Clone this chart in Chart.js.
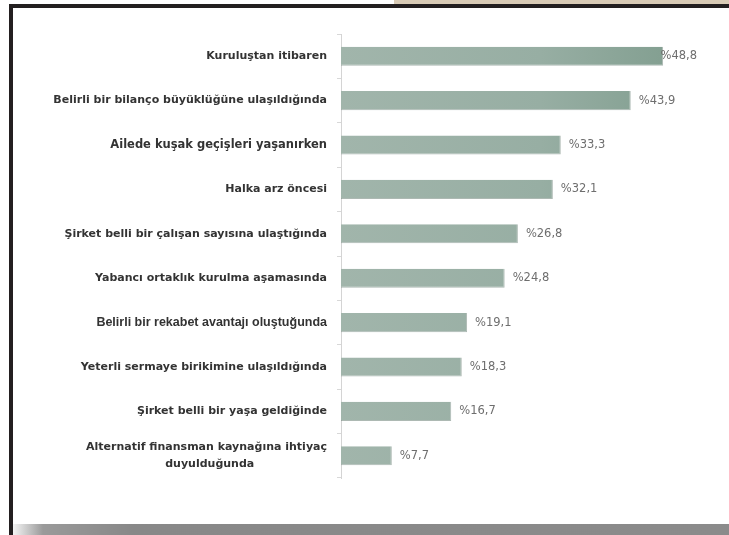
<!DOCTYPE html>
<html>
<head>
<meta charset="utf-8">
<script src="https://cdn.jsdelivr.net/npm/chart.js@4/dist/chart.umd.min.js"></script>
<style>
  html, body { margin: 0; padding: 0; background: #ffffff; }
  body { width: 729px; height: 535px; position: relative; overflow: hidden; }
  #wrap { position: absolute; left: 0; top: 0; width: 729px; height: 535px; }
  .fr { position: absolute; z-index: 2; }
  #tan { left: 394px; top: 0; width: 335px; height: 4px; background: #d9cbb6; }
  #topb { left: 9px; top: 4px; width: 720px; height: 4px; background: #231f20; }
  #leftb { left: 9px; top: 4px; width: 4px; height: 531px; background: #231f20; }
  #shadow { left: 13px; top: 524px; width: 716px; height: 11px;
            background: linear-gradient(to right, #f4f4f4 0px, #9a9a9a 30px, #888888 120px, #8b8b8b 100%); }
</style>
</head>
<body>
<div id="wrap"><canvas id="c" width="729" height="535"></canvas></div>
<div class="fr" id="tan"></div>
<div class="fr" id="topb"></div>
<div class="fr" id="leftb"></div>
<div class="fr" id="shadow"></div>
<script>
const categories = [
  "Kuruluştan itibaren",
  "Belirli bir bilanço büyüklüğüne ulaşıldığında",
  "Ailede kuşak geçişleri yaşanırken",
  "Halka arz öncesi",
  "Şirket belli bir çalışan sayısına ulaştığında",
  "Yabancı ortaklık kurulma aşamasında",
  "Belirli bir rekabet avantajı oluştuğunda",
  "Yeterli sermaye birikimine ulaşıldığında",
  "Şirket belli bir yaşa geldiğinde",
  ["Alternatif finansman kaynağına ihtiyaç", "duyulduğunda" + "\u00A0".repeat(19)]
];
const values = [48.8, 43.9, 33.3, 32.1, 26.8, 24.8, 19.1, 18.3, 16.7, 7.7];

function fmt(v) { return '%' + v.toFixed(1).replace('.', ','); }

function barGradient(ctx) {
  const chart = ctx.chart;
  const area = chart.chartArea;
  if (!area) return '#90a89c';
  const el = ctx.element;
  const x0 = area.left;
  let x1 = area.right;
  if (el && el.x) x1 = el.x;
  if (x1 - x0 < 2) x1 = x0 + 2;
  const g = chart.ctx.createLinearGradient(x0, 0, x1, 0);
  g.addColorStop(0, '#a1b5ab');
  g.addColorStop(0.55, '#97aea3');
  g.addColorStop(0.88, '#84a092');
  g.addColorStop(1, '#799487');
  return g;
}

function labelFont(ctx) {
  if (ctx.index === 2) {
    return { family: '"DejaVu Sans", sans-serif', weight: 'bold', size: 11.5, lineHeight: 1.5 };
  }
  if (ctx.index === 6) {
    return { family: '"Liberation Sans", Arial, sans-serif', weight: 'bold', size: 12.5, lineHeight: 1.5 };
  }
  return { family: '"DejaVu Sans", sans-serif', weight: 'bold', size: 11, lineHeight: 1.5 };
}

const valueLabels = {
  id: 'valueLabels',
  afterDatasetsDraw(chart) {
    const ctx = chart.ctx;
    const meta = chart.getDatasetMeta(0);
    ctx.save();
    ctx.font = '11.5px "DejaVu Sans", sans-serif';
    ctx.fillStyle = '#6e6e6e';
    ctx.textBaseline = 'middle';
    ctx.textAlign = 'left';
    meta.data.forEach((bar, i) => {
      const txt = fmt(values[i]);
      const w = ctx.measureText(txt).width;
      let x = bar.x + 8;
      if (x + w > 697) x = 697 - w;
      ctx.fillText(txt, x, bar.y);
    });
    ctx.restore();
  }
};

new Chart(document.getElementById('c'), {
  type: 'bar',
  data: {
    labels: categories,
    datasets: [{
      data: values,
      backgroundColor: barGradient,
      borderColor: 'rgba(105,128,117,0.55)',
      borderWidth: { top: 0, right: 1, bottom: 1, left: 0 },
      borderSkipped: 'start',
      categoryPercentage: 1,
      barPercentage: 0.43
    }]
  },
  options: {
    indexAxis: 'y',
    responsive: false,
    animation: false,
    devicePixelRatio: 1,
    layout: { padding: { left: 0, right: 25, top: 34, bottom: 57 } },
    plugins: { legend: { display: false }, tooltip: { enabled: false } },
    scales: {
      x: { display: false, min: 0, max: 55 },
      y: {
        afterFit(scale) { scale.width = 341; },
        border: { display: true, color: '#d4d4d4', width: 1 },
        grid: { display: true, drawOnChartArea: false, drawTicks: true, tickLength: 4, color: '#d8d8d8', offset: true },
        ticks: {
          padding: 10,
          color: '#333333',
          font: labelFont
        }
      }
    }
  },
  plugins: [valueLabels]
});
</script>
</body>
</html>
